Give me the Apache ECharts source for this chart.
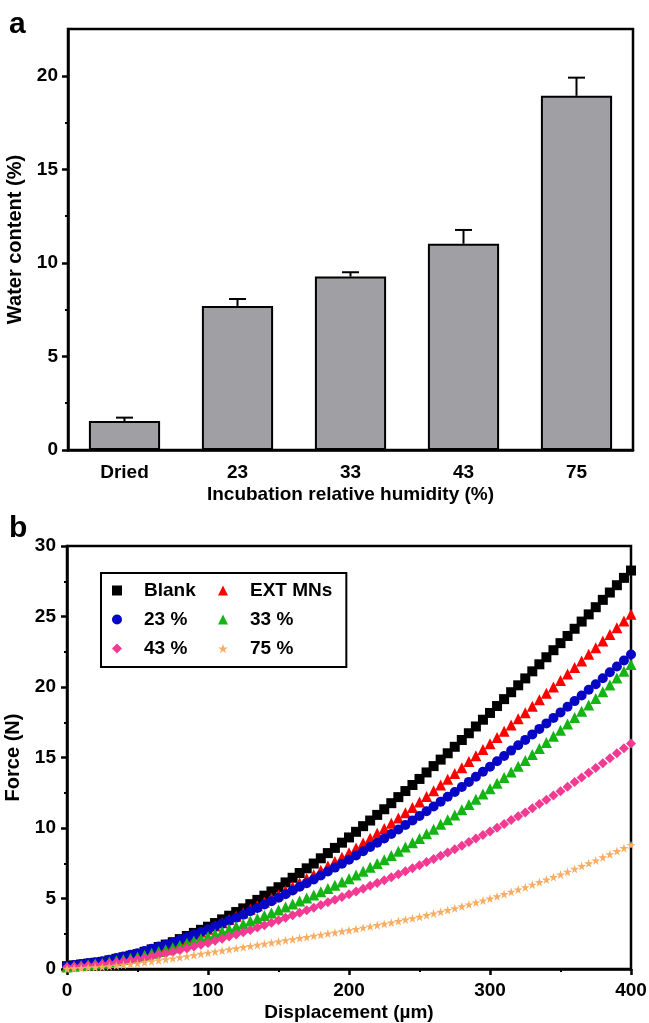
<!DOCTYPE html>
<html>
<head>
<meta charset="UTF-8">
<title></title>
<script src="https://cdn.jsdelivr.net/npm/echarts@6/dist/echarts.min.js"></script>
<style>
  body { margin: 0; background: #fff; }
  #chart { width: 649px; height: 1023px; }
</style>
</head>
<body>
<div id="chart"></div>
<script type="text/javascript">
// panel a: water content vs incubation humidity
var humidity = ['Dried', '23', '33', '43', '75'];
var waterContent = [1.55, 7.7, 9.27, 11.02, 18.93];
var waterErr = [0.18, 0.37, 0.23, 0.74, 0.97];
var waterTicks = [0, 5, 10, 15, 20];

// panel b: force vs displacement
var displacement = [
  0, 5, 10, 15, 20, 25, 30, 35, 40, 45, 50, 55, 60, 65, 70, 75, 80, 85, 90, 95,
  100, 105, 110, 115, 120, 125, 130, 135, 140, 145, 150, 155, 160, 165, 170, 175, 180, 185, 190, 195,
  200, 205, 210, 215, 220, 225, 230, 235, 240, 245, 250, 255, 260, 265, 270, 275, 280, 285, 290, 295,
  300, 305, 310, 315, 320, 325, 330, 335, 340, 345, 350, 355, 360, 365, 370, 375, 380, 385, 390, 395,
  400
];
var blank = [
  0.20, 0.26, 0.32, 0.38, 0.44, 0.50, 0.61, 0.72, 0.83, 0.94,
  1.05, 1.22, 1.39, 1.56, 1.73, 1.90, 2.12, 2.34, 2.56, 2.78,
  3.00, 3.26, 3.52, 3.78, 4.04, 4.30, 4.60, 4.90, 5.20, 5.50,
  5.80, 6.14, 6.47, 6.81, 7.14, 7.48, 7.85, 8.22, 8.59, 8.96,
  9.33, 9.73, 10.13, 10.53, 10.93, 11.33, 11.76, 12.19, 12.62, 13.05,
  13.48, 13.94, 14.39, 14.85, 15.30, 15.76, 16.24, 16.72, 17.20, 17.68,
  18.16, 18.65, 19.14, 19.63, 20.12, 20.61, 21.11, 21.61, 22.11, 22.61,
  23.11, 23.62, 24.13, 24.64, 25.15, 25.66, 26.18, 26.70, 27.22, 27.74,
  28.26
];
var extMNs = [
  0.20, 0.26, 0.31, 0.37, 0.42, 0.48, 0.58, 0.69, 0.79, 0.90,
  1.00, 1.16, 1.32, 1.48, 1.64, 1.80, 2.00, 2.21, 2.41, 2.62,
  2.82, 3.05, 3.28, 3.51, 3.74, 3.97, 4.23, 4.49, 4.75, 5.01,
  5.27, 5.55, 5.84, 6.12, 6.41, 6.69, 7.00, 7.31, 7.62, 7.93,
  8.24, 8.58, 8.93, 9.27, 9.62, 9.96, 10.34, 10.71, 11.09, 11.46,
  11.84, 12.24, 12.65, 13.05, 13.46, 13.86, 14.28, 14.71, 15.13, 15.56,
  15.98, 16.42, 16.86, 17.30, 17.74, 18.18, 18.64, 19.09, 19.55, 20.00,
  20.46, 20.92, 21.39, 21.85, 22.32, 22.78, 23.26, 23.73, 24.21, 24.68,
  25.16
];
var rh23 = [
  0.22, 0.29, 0.35, 0.42, 0.48, 0.55, 0.66, 0.78, 0.89, 1.01,
  1.12, 1.28, 1.43, 1.59, 1.74, 1.90, 2.08, 2.26, 2.44, 2.62,
  2.80, 3.01, 3.22, 3.43, 3.64, 3.85, 4.09, 4.33, 4.57, 4.81,
  5.05, 5.31, 5.57, 5.83, 6.09, 6.35, 6.63, 6.91, 7.19, 7.47,
  7.75, 8.05, 8.35, 8.65, 8.95, 9.25, 9.57, 9.89, 10.21, 10.53,
  10.85, 11.19, 11.53, 11.87, 12.21, 12.55, 12.91, 13.27, 13.63, 13.99,
  14.35, 14.73, 15.11, 15.49, 15.87, 16.25, 16.64, 17.03, 17.42, 17.81,
  18.20, 18.60, 19.00, 19.40, 19.80, 20.20, 20.62, 21.04, 21.46, 21.88,
  22.30
];
var rh33 = [
  0.15, 0.20, 0.25, 0.30, 0.35, 0.40, 0.49, 0.58, 0.67, 0.76,
  0.85, 0.98, 1.11, 1.24, 1.37, 1.50, 1.66, 1.82, 1.98, 2.14,
  2.30, 2.48, 2.66, 2.84, 3.02, 3.20, 3.40, 3.59, 3.79, 3.98,
  4.18, 4.39, 4.61, 4.82, 5.04, 5.25, 5.48, 5.71, 5.94, 6.17,
  6.40, 6.67, 6.94, 7.21, 7.48, 7.75, 8.05, 8.35, 8.65, 8.95,
  9.25, 9.59, 9.92, 10.26, 10.59, 10.93, 11.30, 11.67, 12.04, 12.41,
  12.78, 13.18, 13.58, 13.98, 14.38, 14.78, 15.21, 15.64, 16.07, 16.50,
  16.93, 17.38, 17.83, 18.28, 18.73, 19.18, 19.66, 20.15, 20.63, 21.12,
  21.60
];
var rh43 = [
  0.12, 0.16, 0.20, 0.24, 0.28, 0.32, 0.39, 0.46, 0.54, 0.61,
  0.68, 0.78, 0.89, 0.99, 1.10, 1.20, 1.33, 1.46, 1.59, 1.72,
  1.85, 2.00, 2.15, 2.30, 2.45, 2.60, 2.77, 2.94, 3.11, 3.28,
  3.45, 3.63, 3.81, 3.99, 4.17, 4.35, 4.54, 4.73, 4.92, 5.11,
  5.30, 5.50, 5.70, 5.90, 6.10, 6.30, 6.51, 6.72, 6.93, 7.14,
  7.35, 7.58, 7.81, 8.04, 8.27, 8.50, 8.75, 9.00, 9.25, 9.50,
  9.75, 10.02, 10.29, 10.56, 10.83, 11.10, 11.40, 11.70, 12.00, 12.30,
  12.60, 12.93, 13.26, 13.59, 13.92, 14.25, 14.60, 14.95, 15.30, 15.65,
  16.00
];
var rh75 = [
  0.02, 0.05, 0.07, 0.10, 0.12, 0.15, 0.20, 0.25, 0.30, 0.35,
  0.40, 0.47, 0.54, 0.61, 0.68, 0.75, 0.83, 0.91, 0.99, 1.07,
  1.15, 1.23, 1.31, 1.39, 1.47, 1.55, 1.63, 1.71, 1.79, 1.87,
  1.95, 2.03, 2.11, 2.19, 2.27, 2.35, 2.43, 2.51, 2.59, 2.67,
  2.75, 2.84, 2.93, 3.02, 3.11, 3.20, 3.30, 3.40, 3.50, 3.60,
  3.70, 3.82, 3.94, 4.06, 4.18, 4.30, 4.44, 4.58, 4.72, 4.86,
  5.00, 5.16, 5.32, 5.48, 5.64, 5.80, 5.98, 6.16, 6.34, 6.52,
  6.70, 6.90, 7.10, 7.30, 7.50, 7.70, 7.92, 8.14, 8.36, 8.58,
  8.80
];
var forceNames = ['Blank', 'EXT MNs', '23 %', '33 %', '43 %', '75 %'];
var forceData = [blank, extMNs, rh23, rh33, rh43, rh75];

var FONT = 'Liberation Sans, Arial, sans-serif';
var STAR = 'path://M50,0 L61,35 L98,35 L68,57 L79,91 L50,70 L21,91 L32,57 L2,35 L39,35 Z';
var markers = [
  { symbol: 'rect', size: 10, color: '#000000' },
  { symbol: 'triangle', size: 11, color: '#ff0000' },
  { symbol: 'circle', size: 10, color: '#0606c4' },
  { symbol: 'triangle', size: 11, color: '#14b414' },
  { symbol: 'diamond', size: 10, color: '#f23a92' },
  { symbol: STAR, size: 9, color: '#f7ad62' }
];

function axisText(size) {
  return { fontSize: size, fontWeight: 'bold', color: '#000', fontFamily: FONT };
}
var lineStyle = { color: '#000', width: 2.5 };

var chart = echarts.init(document.getElementById('chart'));

var scatterSeries = forceNames.map(function (name, k) {
  return {
    name: name,
    type: 'scatter',
    xAxisIndex: 1,
    yAxisIndex: 1,
    symbol: markers[k].symbol,
    symbolSize: markers[k].size,
    itemStyle: { color: markers[k].color, opacity: 1 },
    clip: false,
    silent: true,
    data: displacement.map(function (d, i) { return [d, forceData[k][i]]; })
  };
});

var option = {
  backgroundColor: '#fff',
  animation: false,
  title: [
    { text: 'a', left: 4, top: 5, textStyle: { fontSize: 30, fontWeight: 'bold', color: '#000', fontFamily: FONT } },
    { text: 'b', left: 4, top: 509, textStyle: { fontSize: 30, fontWeight: 'bold', color: '#000', fontFamily: FONT } }
  ],
  grid: [
    { left: 68, right: 16, top: 29, height: 421, outerBoundsMode: 'none', show: true, borderColor: '#000', borderWidth: 2.5 },
    { left: 67, right: 18, top: 546, height: 423, outerBoundsMode: 'none', show: true, borderColor: '#000', borderWidth: 2.5 }
  ],
  legend: {
    data: forceNames,
    left: 101,
    top: 573,
    width: 240,
    orient: 'horizontal',
    itemWidth: 10,
    itemHeight: 10,
    itemGap: 10,
    symbolKeepAspect: true,
    padding: [8, 14, 9, 11],
    borderColor: '#000',
    borderWidth: 2,
    selectedMode: false,
    textStyle: { fontSize: 19, fontWeight: 'bold', color: '#000', fontFamily: FONT, width: 64, lineHeight: 19, padding: [0, 0, 0, 17] }
  },
  xAxis: [
    {
      gridIndex: 0,
      type: 'category',
      data: humidity,
      name: 'Incubation relative humidity (%)',
      nameLocation: 'middle',
      nameGap: 35,
      nameTextStyle: axisText(19),
      axisLine: { lineStyle: lineStyle },
      axisTick: { alignWithLabel: true, length: 6, lineStyle: { width: 2.5 } },
      axisLabel: Object.assign({ margin: 13 }, axisText(19)),
      splitLine: { show: false }
    },
    {
      gridIndex: 1,
      type: 'value',
      min: 0,
      max: 400,
      interval: 100,
      name: 'Displacement (\u00b5m)',
      nameLocation: 'middle',
      nameGap: 34,
      nameTextStyle: axisText(19),
      axisLine: { lineStyle: lineStyle },
      axisTick: { length: 6, lineStyle: { width: 2.5 } },
      minorTick: { show: true, splitNumber: 2, length: 3, lineStyle: { color: '#000', width: 2 } },
      axisLabel: Object.assign({ margin: 12 }, axisText(19)),
      splitLine: { show: false }
    }
  ],
  yAxis: [
    {
      gridIndex: 0,
      type: 'value',
      min: 0,
      max: 22.5,
      interval: 5,
      name: 'Water content (%)',
      nameLocation: 'middle',
      nameGap: 38,
      nameTextStyle: axisText(20),
      axisLine: { show: true, lineStyle: lineStyle },
      axisTick: { show: true, length: 6, customValues: waterTicks, lineStyle: { width: 2.5 } },
      minorTick: { show: true, splitNumber: 2, length: 3, lineStyle: { color: '#000', width: 2 } },
      axisLabel: Object.assign({ margin: 10, showMaxLabel: false }, axisText(19)),
      splitLine: { show: false }
    },
    {
      gridIndex: 1,
      type: 'value',
      min: 0,
      max: 30,
      interval: 5,
      name: 'Force (N)',
      nameLocation: 'middle',
      nameGap: 37,
      nameTextStyle: axisText(20),
      axisLine: { show: true, lineStyle: lineStyle },
      axisTick: { show: true, length: 6, lineStyle: { width: 2.5 } },
      minorTick: { show: true, splitNumber: 2, length: 3, lineStyle: { color: '#000', width: 2 } },
      axisLabel: Object.assign({ margin: 11 }, axisText(19)),
      splitLine: { show: false }
    }
  ],
  series: [
    {
      type: 'bar',
      xAxisIndex: 0,
      yAxisIndex: 0,
      barWidth: '63%',
      silent: true,
      itemStyle: { color: '#a0a0a4', borderColor: '#000', borderWidth: 2 },
      data: waterContent
    },
    {
      type: 'custom',
      xAxisIndex: 0,
      yAxisIndex: 0,
      silent: true,
      z: 3,
      data: humidity.map(function (h, i) { return [i, waterContent[i], waterErr[i]]; }),
      renderItem: function (params, api) {
        var base = api.coord([api.value(0), api.value(1)]);
        var top = api.coord([api.value(0), api.value(1) + api.value(2)]);
        var half = 8.5;
        var st = { stroke: '#000', lineWidth: 2 };
        return {
          type: 'group',
          children: [
            { type: 'line', shape: { x1: base[0], y1: base[1], x2: top[0], y2: top[1] }, style: st },
            { type: 'line', shape: { x1: top[0] - half, y1: top[1], x2: top[0] + half, y2: top[1] }, style: st }
          ]
        };
      }
    }
  ].concat(scatterSeries)
};

chart.setOption(option);
</script>
</body>
</html>
